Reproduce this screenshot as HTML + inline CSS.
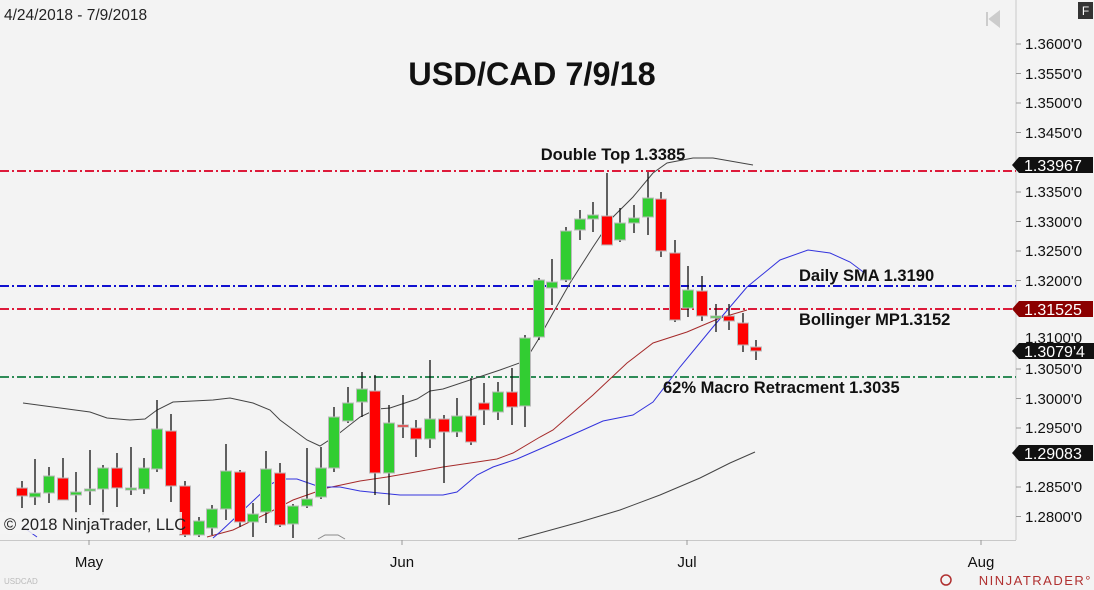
<!DOCTYPE html>
<html><head><meta charset="utf-8"><style>
body{margin:0;background:#f3f3f3;}
svg{display:block;font-family:"Liberation Sans",Arial,sans-serif;}
</style></head><body>
<svg width="1094" height="590" viewBox="0 0 1094 590" xmlns="http://www.w3.org/2000/svg">
<rect width="1094" height="590" fill="#f3f3f3"/>
<text x="4" y="20" font-size="15.5" fill="#222">4/24/2018 - 7/9/2018</text>
<text x="532" y="85" font-size="32.5" font-weight="bold" text-anchor="middle" fill="#111">USD/CAD 7/9/18</text>
<line x1="1016" y1="0" x2="1016" y2="540" stroke="#c8c8c8"/>
<line x1="0" y1="540.5" x2="1016" y2="540.5" stroke="#c8c8c8"/>
<g stroke="#999"><line x1="1016" y1="44" x2="1021" y2="44"/><line x1="1016" y1="73.5" x2="1021" y2="73.5"/><line x1="1016" y1="103" x2="1021" y2="103"/><line x1="1016" y1="132.5" x2="1021" y2="132.5"/><line x1="1016" y1="192" x2="1021" y2="192"/><line x1="1016" y1="221.5" x2="1021" y2="221.5"/><line x1="1016" y1="251" x2="1021" y2="251"/><line x1="1016" y1="280.5" x2="1021" y2="280.5"/><line x1="1016" y1="369" x2="1021" y2="369"/><line x1="1016" y1="398.5" x2="1021" y2="398.5"/><line x1="1016" y1="428" x2="1021" y2="428"/><line x1="1016" y1="487" x2="1021" y2="487"/><line x1="1016" y1="516.5" x2="1021" y2="516.5"/>
<line x1="89" y1="540" x2="89" y2="545"/><line x1="402" y1="540" x2="402" y2="545"/><line x1="687" y1="540" x2="687" y2="545"/><line x1="981" y1="540" x2="981" y2="545"/></g>
<g font-size="15" fill="#111">
<text x="1025" y="49">1.3600'0</text><text x="1025" y="79">1.3550'0</text><text x="1025" y="108">1.3500'0</text><text x="1025" y="138">1.3450'0</text><text x="1025" y="197">1.3350'0</text><text x="1025" y="227">1.3300'0</text><text x="1025" y="256">1.3250'0</text><text x="1025" y="286">1.3200'0</text><text x="1025" y="374">1.3050'0</text><text x="1025" y="404">1.3000'0</text><text x="1025" y="433">1.2950'0</text><text x="1025" y="492">1.2850'0</text><text x="1025" y="522">1.2800'0</text>
<text x="1025" y="343">1.3100'0</text>
</g>
<g font-size="15" fill="#111" text-anchor="middle"><text x="89" y="567">May</text><text x="402" y="567">Jun</text><text x="687" y="567">Jul</text><text x="981" y="567">Aug</text></g>
<text x="4" y="584" font-size="8" fill="#bbb">USDCAD</text>
<text x="1092" y="585" font-size="13" fill="#b03030" text-anchor="end" letter-spacing="1.5">NINJATRADER°</text>
<circle cx="946" cy="580" r="5" fill="none" stroke="#b03030" stroke-width="1.5"/>
<rect x="1078" y="2" width="15" height="17" fill="#333"/><text x="1085.5" y="15" font-size="12" fill="#fff" text-anchor="middle">F</text>
<path d="M987 12v14M999 12l-9 7 9 7z" stroke="#ccc" fill="#ccc" stroke-width="2"/>
<g stroke-width="2" stroke-dasharray="9,3,2,3" fill="none">
<line x1="0" y1="171" x2="1016" y2="171" stroke="#dd1a3a"/>
<line x1="0" y1="286" x2="1016" y2="286" stroke="#1010d0"/>
<line x1="0" y1="309" x2="1016" y2="309" stroke="#dd1a3a"/>
<line x1="0" y1="377" x2="1016" y2="377" stroke="#2e8b57"/>
</g>
<polyline fill="none" stroke="#444" stroke-width="1" points="23,403 90,412 107,418 130,420 145,419 157,410 173,402 213,400 230,398 253,403 270,410 280,420 307,440 320,446 337,435 360,417 377,409 390,408 417,399 430,391 443,389 470,380 500,370 525,361 538,340 553,313 570,283 593,247 613,217 633,197 653,173 667,163 693,158 713,158 753,165"/>
<polyline fill="none" stroke="#444" stroke-width="1" points="518,539 540,533 580,522 620,510 660,495 700,478 730,463 755,452"/>
<polyline fill="none" stroke="#888" stroke-width="1" points="318,539 325,535 338,535 345,539"/>
<polyline fill="none" stroke="#a52a2a" stroke-width="1" points="207,537 233,530 270,512 293,500 327,488 360,481 387,477 410,473 443,467 477,462 497,459 513,453 540,437 553,430 593,395 627,363 653,343 687,332 720,318 747,310"/>
<polyline fill="none" stroke="#3333dd" stroke-width="1" points="23,527 37,537"/>
<polyline fill="none" stroke="#3333dd" stroke-width="1" points="213,538 220,532 270,485 273,483 283,479 297,479 320,487 340,487 360,491 400,495 443,495 457,492 477,475 493,467 517,459 540,449 583,430 603,421 633,415 653,402 680,367 713,327 747,287 780,260 808,250 830,253 850,262 866,274"/>
<g id="c" stroke-width="1.3"></g>
<g font-size="16.5" font-weight="bold" fill="#111">
<text x="613" y="160" text-anchor="middle">Double Top 1.3385</text>
<text x="799" y="281">Daily SMA 1.3190</text>
<text x="799" y="325">Bollinger MP1.3152</text>
<text x="663" y="393">62% Macro Retracment 1.3035</text>
</g>
<rect x="0" y="512" width="182" height="22" fill="#f3f3f3" opacity="0.85"/>
<text x="4" y="530" font-size="16.5" fill="#222">© 2018 NinjaTrader, LLC</text>
<g font-size="16" fill="#fff">
<path d="M1012 165l7-8h74v16h-74z" fill="#111"/><text x="1024" y="171">1.33967</text>
<path d="M1012 309l7-8h74v16h-74z" fill="#8b0000"/><text x="1024" y="315">1.31525</text>
<path d="M1012 351l7-8h81v16h-81z" fill="#111"/><text x="1024" y="357">1.3079'4</text>
<path d="M1012 453l7-8h74v16h-74z" fill="#111"/><text x="1024" y="459">1.29083</text>
</g>
</svg>
<script>
var d=[[22,'r',488,496,481,508],[35,'g',493,497,459,505],[49,'g',476,493,467,503],[63,'r',478,500,458,500],[76,'g',492,495,472,513],[90,'g',489,491,450,505],[103,'g',468,489,465,515],[117,'r',468,488,453,507],[131,'g',488,490,447,495],[144,'g',468,489,458,494],[157,'g',429,469,400,472],[171,'r',431,486,414,502],[185,'r',486,535,481,537],[199,'g',521,535,517,537],[212,'g',509,528,505,535],[226,'g',471,509,444,520],[240,'r',472,522,470,527],[253,'g',514,522,503,537],[266,'g',469,512,451,523],[280,'r',473,525,463,527],[293,'g',506,524,504,538],[307,'g',499,506,448,508],[321,'g',468,497,447,499],[334,'g',417,468,407,472],[348,'g',403,421,387,423],[362,'g',389,402,372,417],[375,'r',391,473,375,495],[389,'g',423,473,405,505],[403,'r',425,427,395,438],[416,'r',428,439,420,457],[430,'g',419,439,360,448],[444,'r',419,432,415,483],[457,'g',416,432,398,437],[471,'r',416,442,378,445],[484,'r',403,410,383,425],[498,'g',392,412,382,420],[512,'r',392,407,368,425],[525,'g',338,406,335,427],[539,'g',280,337,278,340],[552,'g',282,288,259,305],[566,'g',231,280,227,282],[580,'g',219,230,210,240],[593,'g',215,219,202,232],[607,'r',216,245,173,245],[620,'g',223,240,208,242],[634,'g',218,223,205,233],[648,'g',198,217,172,235],[661,'r',199,251,192,257],[675,'r',253,320,240,322],[688,'g',290,308,266,317],[702,'r',291,316,276,321],[716,'g',316,317,304,332],[729,'r',316,321,304,330],[743,'r',323,345,313,352],[756,'r',347,351,340,360]];
var s='';d.forEach(function(c){var x=c[0];s+='<line x1="'+x+'" y1="'+c[4]+'" x2="'+x+'" y2="'+Math.min(c[5],539)+'" stroke="#111"/>';var h=Math.max(c[3]-c[2],2);s+='<rect x="'+(x-5.5)+'" y="'+c[2]+'" width="11" height="'+h+'" fill="'+(c[1]=='g'?'#32cd32':'#ff0000')+'" stroke="#bbb" stroke-width="1"/>';});
document.getElementById('c').innerHTML=s;
</script>
</body></html>
